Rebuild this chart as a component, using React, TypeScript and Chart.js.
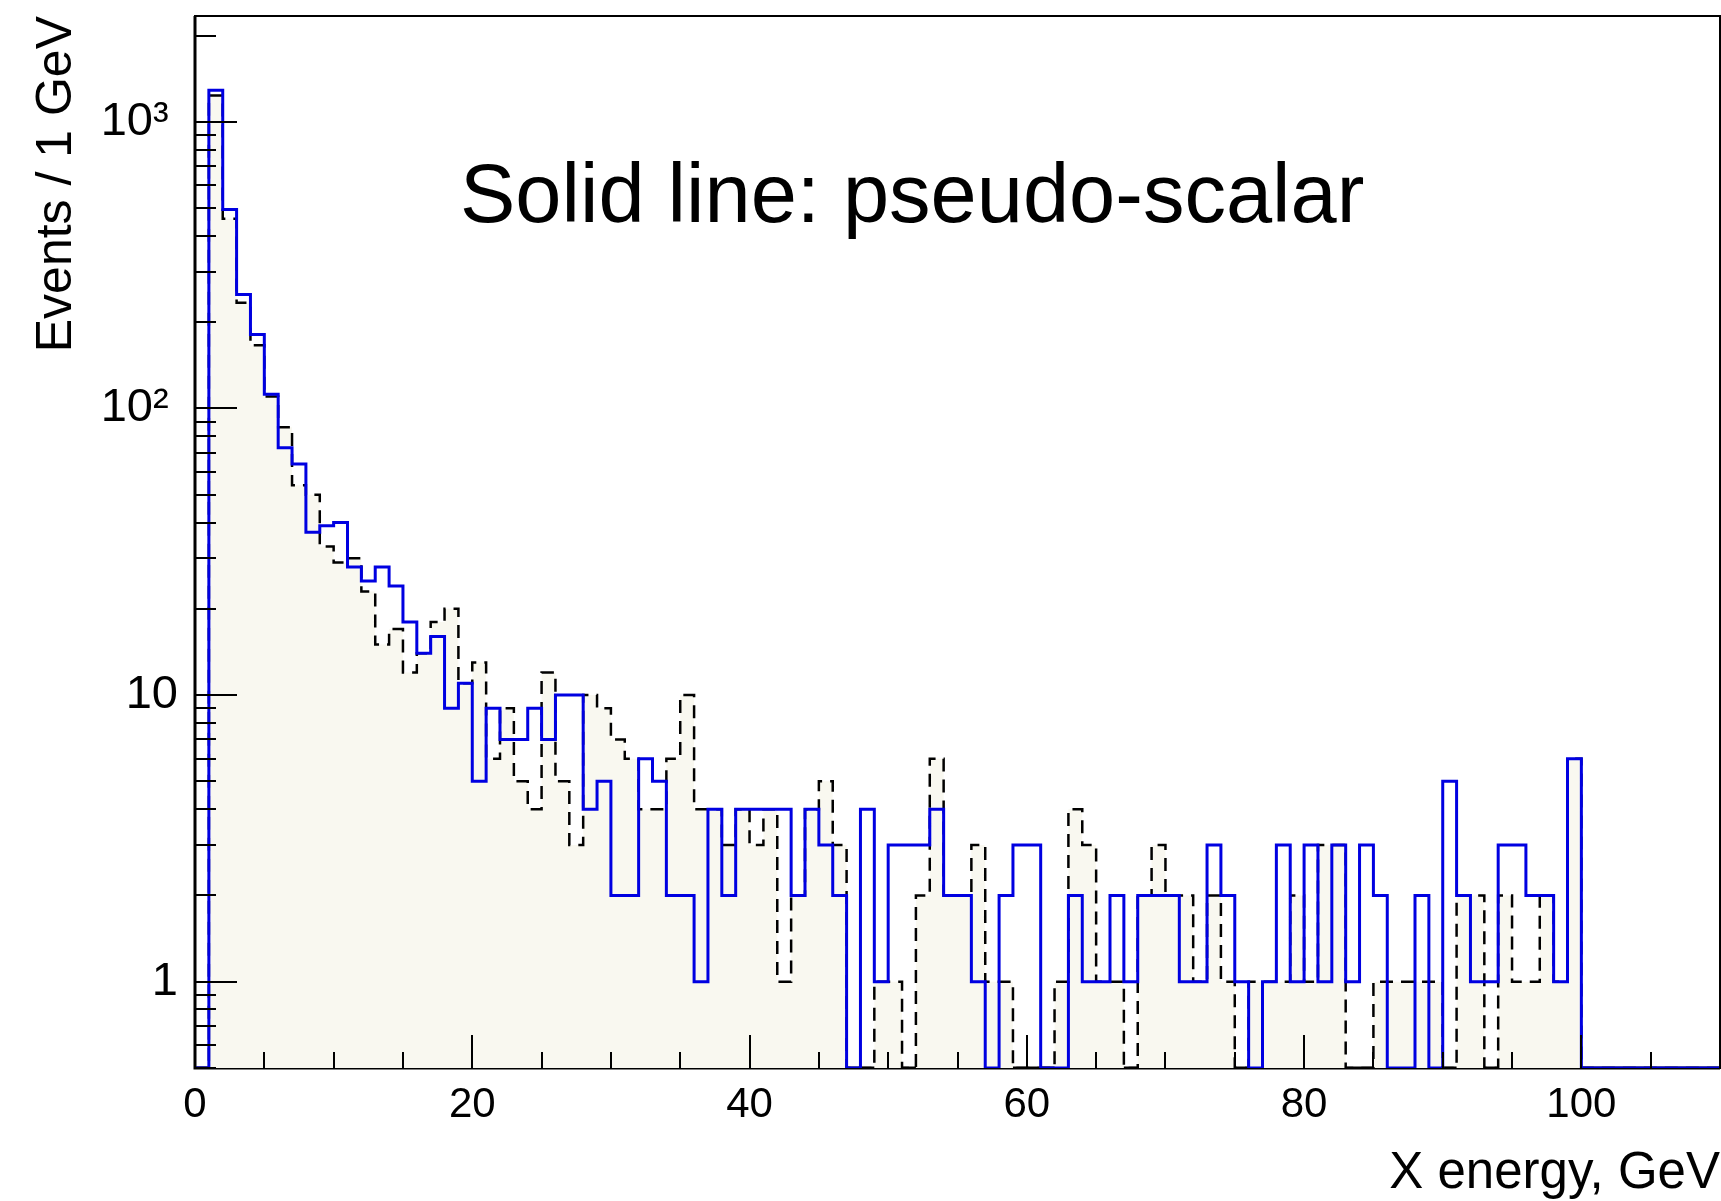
import React, { useEffect, useRef } from "react";
import { Chart, registerables } from "chart.js";

Chart.register(...registerables);

// Events per 1 GeV bin, bins [0,1), [1,2), ... [109,110)
const PSEUDO_SCALAR = [
  0, 1288, 494, 250, 181, 112, 73, 64, 37, 39,
  40, 28, 25, 28, 24, 18, 14, 16, 9, 11,
  5, 9, 7, 7, 9, 7, 10, 10, 4, 5,
  2, 2, 6, 5, 2, 2, 1, 4, 2, 4,
  4, 4, 4, 2, 4, 3, 2, 0, 4, 1,
  3, 3, 3, 4, 2, 2, 1, 0, 2, 3,
  3, 0, 0, 2, 1, 1, 2, 1, 2, 2,
  2, 1, 1, 3, 2, 1, 0, 1, 3, 1,
  3, 1, 3, 1, 3, 2, 0, 0, 2, 0,
  5, 2, 1, 1, 3, 3, 2, 2, 1, 6,
  0, 0, 0, 0, 0, 0, 0, 0, 0, 0,
];

const SCALAR = [
  0, 1235, 459, 234, 166, 110, 86, 54, 50, 33,
  29, 30, 23, 15, 17, 12, 14, 18, 20, 11,
  13, 6, 9, 5, 4, 12, 5, 3, 10, 9,
  7, 6, 4, 4, 6, 10, 4, 4, 3, 4,
  3, 4, 1, 2, 4, 5, 3, 0, 0, 1,
  1, 0, 2, 6, 2, 2, 3, 1, 1, 0,
  0, 0, 1, 4, 3, 1, 1, 0, 2, 3,
  2, 2, 1, 2, 1, 0, 1, 1, 1, 2,
  1, 3, 3, 0, 0, 1, 1, 1, 1, 1,
  0, 2, 2, 0, 2, 1, 1, 2, 1, 6,
  0, 0, 0, 0, 0, 0, 0, 0, 0, 0,
];

const BIN_START = 0;
const BIN_WIDTH = 1;

const X_MIN = 0;
const X_MAX = 110;
const Y_MIN = 0.5;
const Y_MAX = 2340;

const X_TICKS = [0, 20, 40, 60, 80, 100];
const X_TICK_LABELS = ["0", "20", "40", "60", "80", "100"];
const Y_TICKS = [1, 10, 100, 1000];
const Y_TICK_LABELS = ["1", "10", "10²\u2009", "10³\u2009"];

const X_TITLE = "X energy, GeV";
const Y_TITLE = "Events / 1 GeV";
const NOTE_TEXT = "Solid line: pseudo-scalar";

const FONT = '"Liberation Sans", Arial, Helvetica, sans-serif';
const BLUE = "rgb(0, 0, 225)";
const FILL = "rgb(249, 248, 240)";

// Step points: each bin value holds from its low edge to the next one.
// Empty bins sit on the bottom of the log axis.
function toSteps(counts: number[]) {
  const pts = counts.map((c, i) => ({
    x: BIN_START + i * BIN_WIDTH,
    y: c > 0 ? c : Y_MIN,
  }));
  const last = counts[counts.length - 1];
  pts.push({ x: BIN_START + counts.length * BIN_WIDTH, y: last > 0 ? last : Y_MIN });
  return pts;
}

const axisLines = {
  id: "axisLines",
  beforeDatasetsDraw(chart: any) {
    const { ctx, chartArea: a } = chart;
    ctx.save();
    ctx.strokeStyle = "#000";
    ctx.lineWidth = 2;
    ctx.strokeRect(a.left, a.top, a.right - a.left, a.bottom - a.top);
    ctx.lineWidth = 3;
    ctx.beginPath();
    ctx.moveTo(a.left, a.top);
    ctx.lineTo(a.left, a.bottom);
    ctx.lineTo(a.right, a.bottom);
    ctx.stroke();
    ctx.restore();
  },
};

const insideTicks = {
  id: "insideTicks",
  afterDatasetsDraw(chart: any) {
    const { ctx, chartArea: a, scales } = chart;
    const xs = scales.x;
    const ys = scales.y;
    ctx.save();
    ctx.strokeStyle = "#000";
    ctx.lineWidth = 2;
    ctx.beginPath();
    for (let e = -1; e <= 3; e++) {
      for (let k = 1; k <= 9; k++) {
        const v = k * Math.pow(10, e);
        if (v < Y_MIN || v > Y_MAX) continue;
        const py = Math.round(ys.getPixelForValue(v));
        const len = k === 1 ? 42 : 21;
        ctx.moveTo(a.left, py);
        ctx.lineTo(a.left + len, py);
      }
    }
    for (let v = X_MIN; v <= X_MAX; v += 5) {
      const px = Math.round(xs.getPixelForValue(v));
      const len = v % 20 === 0 ? 33 : 16;
      ctx.moveTo(px, a.bottom);
      ctx.lineTo(px, a.bottom - len);
    }
    ctx.stroke();
    ctx.restore();
  },
  afterDraw(chart: any) {
    const { ctx } = chart;
    ctx.save();
    ctx.fillStyle = "#000";
    ctx.font = `83px ${FONT}`;
    ctx.textAlign = "left";
    ctx.textBaseline = "alphabetic";
    ctx.fillText(NOTE_TEXT, 460, 222);
    ctx.restore();
  },
};

export default function App() {
  const canvasRef = useRef<HTMLCanvasElement | null>(null);

  useEffect(() => {
    const canvas = canvasRef.current;
    if (!canvas) return;
    const chart = new Chart(canvas, {
      type: "line",
      data: {
        datasets: [
          {
            label: "pseudo-scalar",
            data: toSteps(PSEUDO_SCALAR),
            stepped: true,
            borderColor: BLUE,
            borderWidth: 3,
            borderJoinStyle: "miter",
            borderCapStyle: "butt",
            pointRadius: 0,
            fill: false,
          },
          {
            label: "scalar",
            data: toSteps(SCALAR),
            stepped: true,
            borderColor: "#000",
            borderWidth: 2.5,
            borderDash: [13, 8],
            borderJoinStyle: "miter",
            backgroundColor: FILL,
            pointRadius: 0,
            fill: "start",
          },
        ] as any,
      },
      options: {
        responsive: false,
        animation: false,
        devicePixelRatio: 1,
        layout: { padding: { left: 0, right: 1, top: 16, bottom: 0 } },
        plugins: {
          legend: { display: false },
          tooltip: { enabled: false },
        },
        scales: {
          x: {
            type: "linear",
            min: X_MIN,
            max: X_MAX,
            bounds: "data",
            grid: { display: false, drawTicks: false },
            border: { display: false },
            afterBuildTicks: (s: any) => {
              s.ticks = X_TICKS.map((v) => ({ value: v }));
            },
            afterFit: (s: any) => {
              s.height = 133;
              s.paddingLeft = 0;
              s.paddingRight = 0;
            },
            ticks: {
              autoSkip: false,
              maxRotation: 0,
              padding: 12,
              color: "#000",
              font: { family: FONT, size: 42 },
              callback: (v: any) => X_TICK_LABELS[X_TICKS.indexOf(Number(v))],
            },
            title: {
              display: true,
              text: X_TITLE,
              align: "end",
              color: "#000",
              font: { family: FONT, size: 51, lineHeight: 1 },
              padding: { top: 0, bottom: 2 },
            },
          },
          y: {
            type: "logarithmic",
            min: Y_MIN,
            max: Y_MAX,
            bounds: "data",
            grid: { display: false, drawTicks: false },
            border: { display: false },
            afterBuildTicks: (s: any) => {
              s.ticks = Y_TICKS.map((v) => ({ value: v }));
            },
            afterFit: (s: any) => {
              s.width = 195;
              s.paddingTop = 0;
              s.paddingBottom = 0;
            },
            ticks: {
              autoSkip: false,
              padding: 17,
              color: "#000",
              font: { family: FONT, size: 47 },
              callback: (v: any) => Y_TICK_LABELS[Y_TICKS.indexOf(Number(v))],
            },
            title: {
              display: true,
              text: Y_TITLE,
              align: "end",
              color: "#000",
              font: { family: FONT, size: 50, lineHeight: 1 },
              padding: { top: 32, bottom: 0 },
            },
          },
        },
      } as any,
      plugins: [axisLines, insideTicks],
    });
    return () => chart.destroy();
  }, []);

  return (
    <div style={{ position: "absolute", left: 0, top: 0, width: 1721, height: 1201, background: "#fff" }}>
      <canvas
        ref={canvasRef}
        width={1721}
        height={1201}
        style={{ display: "block", width: 1721, height: 1201 }}
      />
    </div>
  );
}
